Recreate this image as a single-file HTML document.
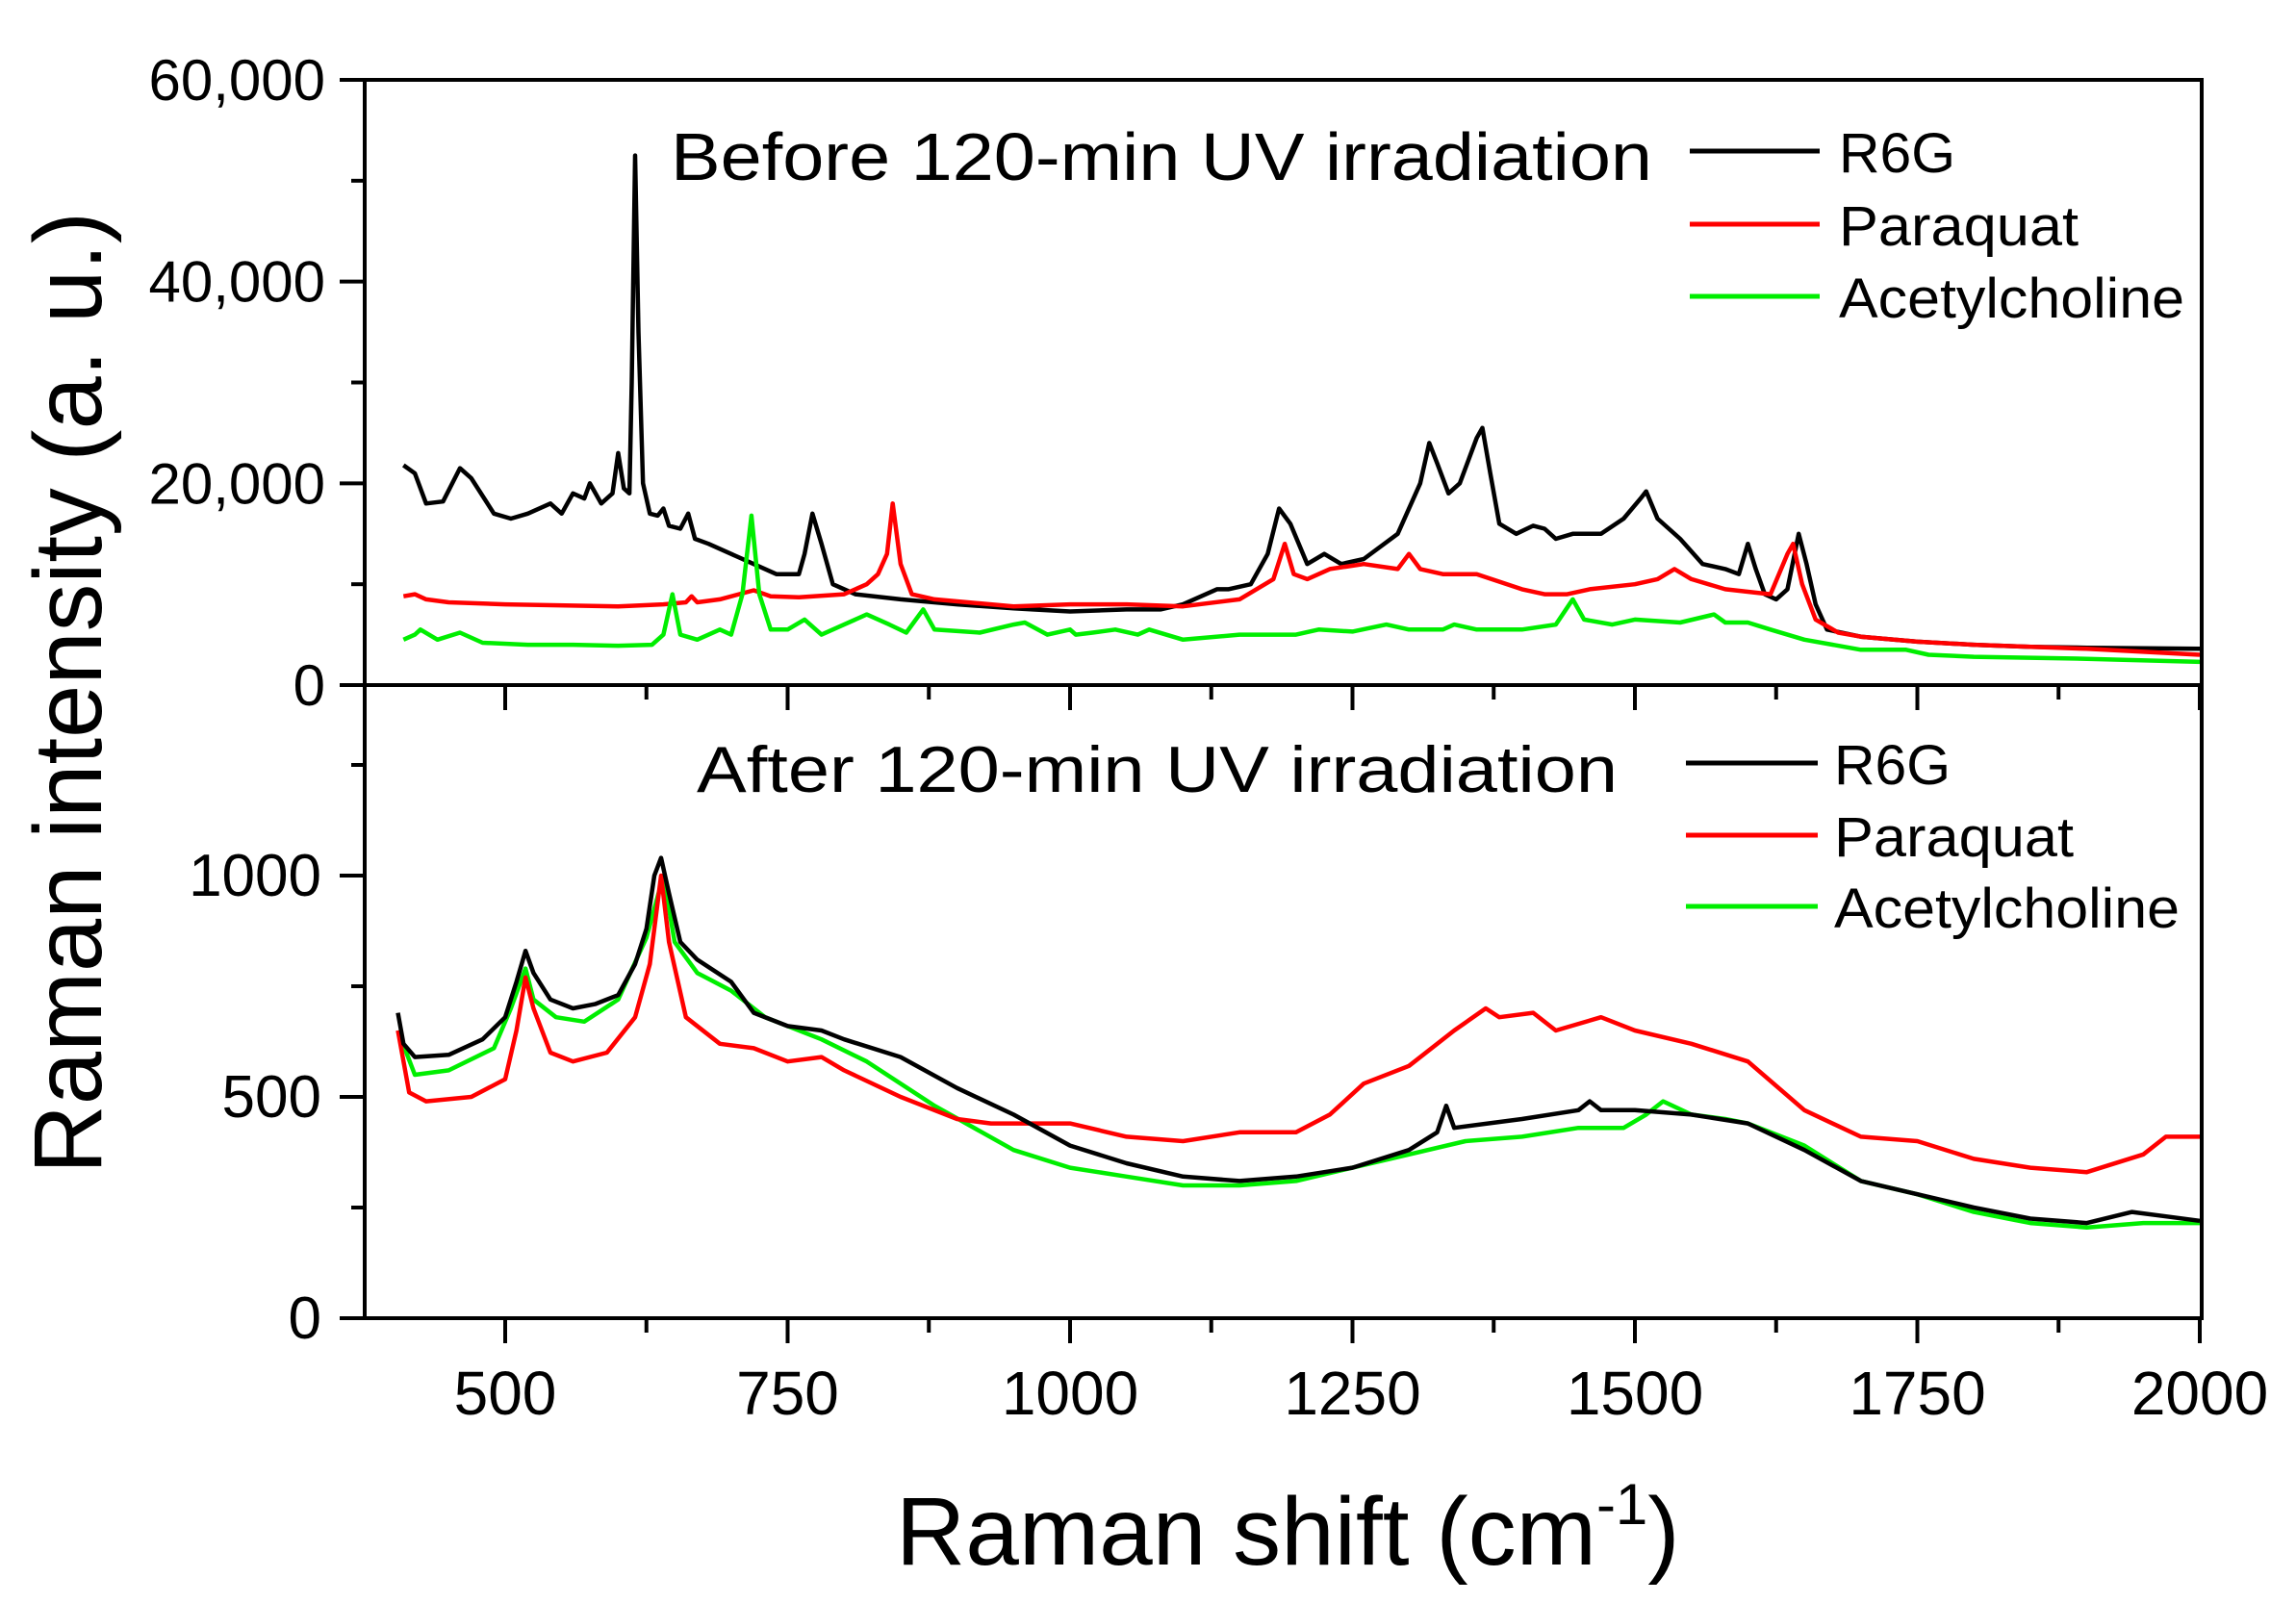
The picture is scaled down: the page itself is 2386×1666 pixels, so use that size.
<!DOCTYPE html>
<html><head><meta charset="utf-8"><style>
html,body{margin:0;padding:0;background:#fff;}
svg{display:block;}
text{font-family:"Liberation Sans",Arial,sans-serif;fill:#000;}
</style></head><body>
<svg id="chart" width="2386" height="1666" viewBox="0 0 2386 1666" xmlns="http://www.w3.org/2000/svg">
<g id="axes"></g><g id="series"></g><g id="labels"></g>
</svg>
<script>
// ---------- data ----------
const topR6G_x=[410,420,430,445,460,470,490,505,520,540,550,560,570,575,585,595,600,605,610,612,615,618,622,628,635,640,645,655,662,668,680,700,720,740,760,765,772,780,790,810,850,900,950,1000,1050,1080,1100,1130,1140,1160,1175,1185,1195,1210,1225,1240,1260,1290,1310,1318,1325,1335,1345,1360,1365,1372,1380,1395,1410,1420,1430,1445,1470,1490,1505,1510,1520,1540,1560,1580,1592,1600,1607,1615,1625,1635,1645,1652,1660,1670,1700,1750,1800,1850,1900,2000];
const topR6G_y=[21800,21000,18000,18200,21500,20500,17000,16500,17000,18000,17000,19000,18500,20000,18000,19000,23000,19500,19000,30000,52500,35000,20000,17000,16800,17500,15800,15500,17000,14500,14000,13000,12000,11000,11000,13000,17000,14000,10000,9000,8500,8000,7600,7300,7500,7500,8000,9500,9500,10000,13000,17500,16000,12000,13000,12000,12500,15000,20000,24000,22000,19000,20000,24500,25500,21000,16000,15000,15800,15500,14500,15000,15000,16500,18500,19200,16500,14500,12000,11500,11000,14000,11500,9000,8500,9500,15000,12000,8000,5500,4800,4300,4000,3800,3700,3600];
const topPQ_x=[410,420,430,450,500,600,640,660,665,670,690,720,735,760,800,820,830,838,843,850,860,880,950,1000,1050,1100,1150,1180,1190,1198,1210,1230,1260,1290,1300,1310,1330,1360,1400,1420,1440,1460,1500,1520,1535,1550,1580,1620,1635,1640,1648,1660,1680,1700,1750,1800,1900,2000];
const topPQ_y=[8800,9000,8500,8200,8000,7800,8000,8200,8800,8200,8500,9400,8800,8700,9000,10000,11000,13000,18000,12000,9000,8500,7800,8000,8000,7800,8500,10500,14000,11000,10500,11500,12000,11500,13000,11500,11000,11000,9500,9000,9000,9500,10000,10500,11500,10500,9500,9000,13000,14000,10000,6500,5200,4800,4300,4000,3600,3000];
const topAC_x=[410,420,425,440,460,480,520,560,600,630,640,648,655,670,690,700,710,718,725,735,750,765,780,800,820,840,855,870,880,920,950,960,980,1000,1005,1020,1040,1060,1070,1100,1150,1200,1220,1250,1280,1300,1330,1340,1360,1400,1430,1445,1455,1480,1500,1540,1570,1580,1600,1620,1650,1700,1740,1760,1800,1900,2000];
const topAC_y=[4500,5000,5500,4500,5200,4200,4000,4000,3900,4000,5000,9000,5000,4500,5500,5000,9000,16800,9000,5500,5500,6500,5000,6000,7000,6000,5200,7500,5500,5200,6000,6200,5000,5500,5000,5200,5500,5000,5500,4500,5000,5000,5500,5300,6000,5500,5500,6000,5500,5500,6000,8500,6500,6000,6500,6200,7000,6200,6200,5500,4500,3500,3500,3000,2800,2600,2300];
const botR6G_x=[405,410,420,450,480,500,510,518,525,540,560,580,600,615,625,632,638,645,655,670,700,720,750,780,800,850,900,950,1000,1050,1100,1150,1200,1250,1300,1325,1333,1340,1400,1450,1460,1470,1500,1550,1600,1650,1700,1750,1800,1850,1900,1940,1970,2000];
const botR6G_y=[690,620,590,595,630,680,760,830,780,720,700,710,730,800,880,1000,1040,960,850,810,760,690,660,650,630,590,520,460,390,350,320,310,320,340,380,420,480,430,450,470,490,470,470,460,440,380,310,280,250,225,215,240,230,220];
const botPQ_x=[405,415,430,470,500,510,518,525,540,560,590,615,628,638,645,660,690,720,750,780,800,850,900,930,960,1000,1050,1100,1150,1200,1230,1260,1300,1340,1368,1380,1410,1430,1470,1500,1550,1600,1650,1700,1750,1800,1850,1900,1950,1970,2000];
const botPQ_y=[650,510,490,500,540,650,770,700,600,580,600,680,800,1000,850,680,620,610,580,590,560,500,450,440,440,440,410,400,420,420,460,530,570,650,700,680,690,650,680,650,620,580,470,410,400,360,340,330,370,410,410];
const botAC_x=[405,420,450,490,505,518,525,545,570,600,625,640,650,670,700,730,780,820,880,950,1000,1050,1100,1150,1200,1250,1300,1350,1400,1450,1490,1510,1525,1550,1580,1600,1650,1700,1750,1800,1850,1900,1950,2000];
const botAC_y=[650,550,560,610,700,790,720,680,670,720,860,1000,850,780,740,680,630,580,480,380,340,320,300,300,310,340,370,400,410,430,430,460,490,460,450,440,390,310,280,240,215,205,215,215];
const xTicks=[500,750,1000,1250,1500,1750,2000];
const topYTicks=[0,20000,40000,60000];
const topYTickLabels=["0","20,000","40,000","60,000"];
const botYTicks=[0,500,1000];
const botYTickLabels=["0","500","1000"];
const legendNames=["R6G","Paraquat","Acetylcholine"];
const legendColors=["#000000","#ff0000","#00ee00"];

// ---------- scales ----------
const X0=379,X1=2288, TOPY0=83, MID=712, BOTY=1370;
const xs=v=>525+(v-500)*1.174;
const ysTop=v=>MID-(v/60000)*(MID-TOPY0);
const ysBot=v=>BOTY-(v/500)*230;
const NS="http://www.w3.org/2000/svg";
const axes=document.getElementById('axes'),series=document.getElementById('series'),labels=document.getElementById('labels');
function mk(tag,attrs,parent){const e=document.createElementNS(NS,tag);for(const k in attrs)e.setAttribute(k,attrs[k]);parent.appendChild(e);return e;}

// frames
let f1=mk('rect',{x:X0,y:TOPY0,width:X1-X0,height:MID-TOPY0,fill:'none',stroke:'#000','stroke-width':4},axes);


let f2=mk('rect',{x:X0,y:MID,width:X1-X0,height:BOTY-MID,fill:'none',stroke:'#000','stroke-width':4},axes);



// x ticks (both panels)
[MID,BOTY].forEach((yb,pi)=>{
  for(let v=500;v<=2000;v+=125){
    const major=(v%250===0);
    const t=mk('line',{x1:xs(v),x2:xs(v),y1:yb,y2:yb+(major?26:15),stroke:'#000','stroke-width':4},axes);
    
    
  }
});
xTicks.forEach(v=>{
  const t=mk('text',{x:xs(v),y:1470,'font-size':64,'text-anchor':'middle'},labels);
  t.textContent=v;
  
  
});
// top y ticks
for(let v=0;v<=60000;v+=10000){
  const major=(v%20000===0);
  const t=mk('line',{x1:X0-(major?26:14),x2:X0,y1:ysTop(v),y2:ysTop(v),stroke:'#000','stroke-width':4},axes);
  
  
}
topYTicks.forEach((v,i)=>{
  const t=mk('text',{x:338,y:ysTop(v)+21,'font-size':60,'text-anchor':'end'},labels);
  t.textContent=topYTickLabels[i];
  
  
});
for(let v=0;v<=1250;v+=250){
  const major=(v%500===0);
  const t=mk('line',{x1:X0-(major?26:14),x2:X0,y1:ysBot(v),y2:ysBot(v),stroke:'#000','stroke-width':4},axes);
  
  
}
botYTicks.forEach((v,i)=>{
  const t=mk('text',{x:334,y:ysBot(v)+21,'font-size':62,'text-anchor':'end'},labels);
  t.textContent=botYTickLabels[i];
  
  
});

// series
function draw(xa,ya,ysc,color,name){
  const d=xa.map((x,i)=>(i?'L':'M')+xs(x).toFixed(1)+','+ysc(ya[i]).toFixed(1)).join('');
  const p=mk('path',{d:d,fill:'none',stroke:color,'stroke-width':4.5,'stroke-linejoin':'round'},series);
  
  
}
draw(topR6G_x,topR6G_y,ysTop,'#000','before-r6g-line');
draw(topPQ_x,topPQ_y,ysTop,'#ff0000','before-paraquat-line');
draw(topAC_x,topAC_y,ysTop,'#00ee00','before-acetylcholine-line');
draw(botAC_x,botAC_y,ysBot,'#00ee00','after-acetylcholine-line');
draw(botPQ_x,botPQ_y,ysBot,'#ff0000','after-paraquat-line');
draw(botR6G_x,botR6G_y,ysBot,'#000','after-r6g-line');

// titles
let tt=mk('text',{x:697,y:187,'font-size':70,textLength:1020,lengthAdjust:'spacingAndGlyphs'},labels);
tt.textContent='Before 120-min UV irradiation';


let bt=mk('text',{x:724,y:823,'font-size':68,textLength:957,lengthAdjust:'spacingAndGlyphs'},labels);
bt.textContent='After 120-min UV irradiation';



// legends
const legW=[121,249,359];
[[1756,1891,1911,[169,245,320]],[1752,1889,1906,[805,880,954]]].forEach((L,pi)=>{
  legendNames.forEach((n,i)=>{
    const y=L[3][i];
    const ln=mk('line',{x1:L[0],x2:L[1],y1:y-12,y2:y-12,stroke:legendColors[i],'stroke-width':5},labels);
    
    
    const t=mk('text',{x:L[2],y:y+10,'font-size':58,textLength:legW[i],lengthAdjust:'spacingAndGlyphs'},labels);
    t.textContent=n;
    
    
  });
});

// axis titles
let yt=mk('text',{x:0,y:0,'font-size':100,'text-anchor':'middle',textLength:1000,lengthAdjust:'spacingAndGlyphs',transform:'translate(105,720) rotate(-90)'},labels);
yt.textContent='Raman intensity (a. u.)';


let xt=mk('text',{x:931,y:1626,'font-size':100},labels);


const ts1=mk('tspan',{},xt);ts1.textContent='Raman shift (cm';
const ts2=mk('tspan',{dy:-42,'font-size':60},xt);ts2.textContent='-1';
const ts3=mk('tspan',{dy:42},xt);ts3.textContent=')';
</script>
</body></html>
